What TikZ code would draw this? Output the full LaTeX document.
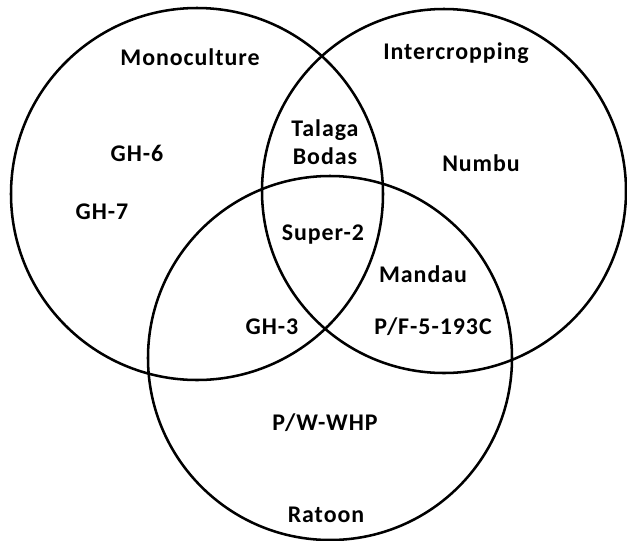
\documentclass[tikz,border=0pt]{standalone}
\usepackage{fontspec}
\setmainfont{Carlito}

\begin{document}
\begin{tikzpicture}[
    x=0.025cm, y=-0.025cm, % 1 unit = 1 pixel of the reference
    ring/.style={line width=1.8pt},
    lbl/.style={font=\bfseries\fontsize{17}{20}\selectfont\addfontfeature{LetterSpace=4}, align=center, inner sep=0pt},
    ]
    \useasboundingbox (0,0) rectangle (627,541);

    % --- circles ---
    \draw[ring] (197,194) circle[radius=186]; % monoculture
    \draw[ring] (444,191) circle[radius=182]; % intercropping
    \draw[ring] (330,358) circle[radius=182]; % ratoon

    % --- set names ---
    \node[lbl] (mono) at (190,57) {Monoculture};
    \node[lbl] (inter) at (456,53) {Intercropping};
    \node[lbl] (ratoon) at (326,515) {Ratoon};

    % --- varieties ---
    \node[lbl] (gh6) at (137,153) {GH-6};
    \node[lbl] (gh7) at (102,212) {GH-7};
    \node[lbl] (talaga) at (325,142) {Talaga\\Bodas};
    \node[lbl] (numbu) at (481,163) {Numbu};
    \node[lbl] (super) at (323,235) {Super-2};
    \node[lbl] (mandau) at (423,274) {Mandau};
    \node[lbl] (gh3) at (272,327) {GH-3};
    \node[lbl] (pf) at (433,327) {P/F-5-193C};
    \node[lbl] (pw) at (325,423) {P/W-WHP};

\end{tikzpicture}
\end{document}
